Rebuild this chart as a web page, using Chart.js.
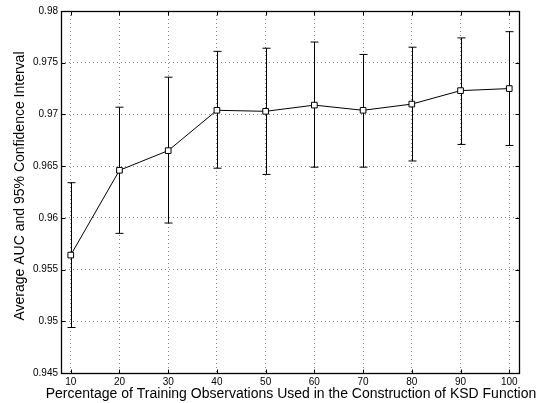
<!DOCTYPE html>
<html>
<head>
<meta charset="utf-8">
<script src="https://cdn.jsdelivr.net/npm/chart.js@4.4.0/dist/chart.umd.min.js"></script>
<style>
  html, body { margin: 0; padding: 0; background: #fff; }
  #wrap { width: 549px; height: 403px; position: relative; }
</style>
</head>
<body>
<div id="wrap"><canvas id="c" width="549" height="403"></canvas></div>
<script>
// ---- data ----
const percentages = [10, 20, 30, 40, 50, 60, 70, 80, 90, 100];
const meanAUC  = [0.9564, 0.9646, 0.9665, 0.9704, 0.9703, 0.9709, 0.9704, 0.9710, 0.9723, 0.9725];
const lowerCI  = [0.9494, 0.9585, 0.9595, 0.9648, 0.9642, 0.9649, 0.9649, 0.9655, 0.9671, 0.9670];
const upperCI  = [0.9634, 0.9707, 0.9736, 0.9761, 0.9764, 0.9770, 0.9758, 0.9765, 0.9774, 0.9780];
const xTickValues = [10, 20, 30, 40, 50, 60, 70, 80, 90, 100];
const xTickLabels = ['10', '20', '30', '40', '50', '60', '70', '80', '90', '100'];
const yTickValues = [0.945, 0.95, 0.955, 0.96, 0.965, 0.97, 0.975, 0.98];
const yTickLabels = ['0.945', '0.95', '0.955', '0.96', '0.965', '0.97', '0.975', '0.98'];
const xTitle = 'Percentage of Training Observations Used in the Construction of KSD Function';
const yTitle = 'Average AUC and 95% Confidence Interval';

const FONT = "'Liberation Sans', Arial, Helvetica, sans-serif";

const errorBarPlugin = {
  id: 'errorBars',
  beforeDatasetsDraw(chart) {
    const ctx = chart.ctx;
    const xs = chart.scales.x, ys = chart.scales.y;
    ctx.save();
    ctx.strokeStyle = '#000';
    ctx.lineWidth = 1;
    const cap = 4;
    percentages.forEach((p, i) => {
      const x = Math.round(xs.getPixelForValue(p)) + 0.5;
      const yl = ys.getPixelForValue(lowerCI[i]);
      const yu = ys.getPixelForValue(upperCI[i]);
      ctx.beginPath();
      ctx.moveTo(x, yl); ctx.lineTo(x, yu);
      ctx.moveTo(x - cap, yl); ctx.lineTo(x + cap, yl);
      ctx.moveTo(x - cap, yu); ctx.lineTo(x + cap, yu);
      ctx.stroke();
    });
    ctx.restore();
  }
};

const boxPlugin = {
  id: 'matlabBox',
  afterDraw(chart) {
    const ctx = chart.ctx;
    const a = chart.chartArea;
    const xs = chart.scales.x, ys = chart.scales.y;
    ctx.save();
    ctx.strokeStyle = '#000';
    ctx.lineWidth = 1;
    const L = Math.round(a.left) + 0.5, R = Math.round(a.right) + 0.5;
    const T = Math.round(a.top) + 0.5, B = Math.round(a.bottom) + 0.5;
    const tl = 4;
    ctx.beginPath();
    xTickValues.forEach(v => {
      const x = Math.round(xs.getPixelForValue(v)) + 0.5;
      ctx.moveTo(x, B); ctx.lineTo(x, B - tl);
      ctx.moveTo(x, T); ctx.lineTo(x, T + tl);
    });
    yTickValues.forEach(v => {
      const y = Math.round(ys.getPixelForValue(v)) + 0.5;
      ctx.moveTo(L, y); ctx.lineTo(L + tl, y);
      ctx.moveTo(R, y); ctx.lineTo(R - tl, y);
    });
    ctx.stroke();
    ctx.lineWidth = 1.3;
    ctx.strokeRect(L, T, R - L, B - T);

    // axis titles (drawn without width squeezing)
    ctx.fillStyle = '#000';
    ctx.font = '14px ' + FONT;
    ctx.textAlign = 'center';
    ctx.textBaseline = 'alphabetic';
    ctx.fillText(xTitle, (a.left + a.right) / 2 + 1, 398);
    ctx.translate(24, (a.top + a.bottom) / 2 - 6);
    ctx.rotate(-Math.PI / 2);
    ctx.fillText(yTitle, 0, 0);
    ctx.restore();
  }
};

new Chart(document.getElementById('c'), {
  type: 'line',
  data: {
    datasets: [{
      data: percentages.map((p, i) => ({ x: p, y: meanAUC[i] })),
      borderColor: '#000',
      borderWidth: 1,
      backgroundColor: '#fff',
      pointStyle: 'rect',
      pointRadius: 4,
      pointBorderWidth: 1,
      pointBorderColor: '#000',
      pointBackgroundColor: '#fff',
      tension: 0,
      fill: false
    }]
  },
  options: {
    responsive: false,
    animation: false,
    devicePixelRatio: 1,
    layout: { padding: { left: 0, right: 30, top: 11, bottom: 0 } },
    plugins: { legend: { display: false }, tooltip: { enabled: false } },
    scales: {
      x: {
        type: 'linear',
        min: 8, max: 102,
        afterBuildTicks(scale) { scale.ticks = xTickValues.map(v => ({ value: v })); },
        afterFit(scale) { scale.height = 30; },
        ticks: {
          font: { family: FONT, size: 10 },
          color: '#000',
          padding: 3,
          maxRotation: 0,
          autoSkip: false,
          callback: (v) => { const i = xTickValues.indexOf(v); return i >= 0 ? xTickLabels[i] : ''; }
        },
        grid: { color: '#888', lineWidth: 1, drawTicks: false },
        border: { display: false, dash: [1, 3] },
        title: { display: false }
      },
      y: {
        type: 'linear',
        min: 0.945, max: 0.98,
        afterBuildTicks(scale) { scale.ticks = yTickValues.map(v => ({ value: v })); },
        afterFit(scale) { scale.width = 61; },
        ticks: {
          font: { family: FONT, size: 10 },
          color: '#000',
          padding: 3,
          autoSkip: false,
          callback: (v) => {
            let best = 0, bd = Infinity;
            yTickValues.forEach((t, i) => { const d = Math.abs(t - v); if (d < bd) { bd = d; best = i; } });
            return yTickLabels[best];
          }
        },
        grid: { color: '#888', lineWidth: 1, drawTicks: false },
        border: { display: false, dash: [1, 3] },
        title: { display: false }
      }
    }
  },
  plugins: [errorBarPlugin, boxPlugin]
});
</script>
</body>
</html>
